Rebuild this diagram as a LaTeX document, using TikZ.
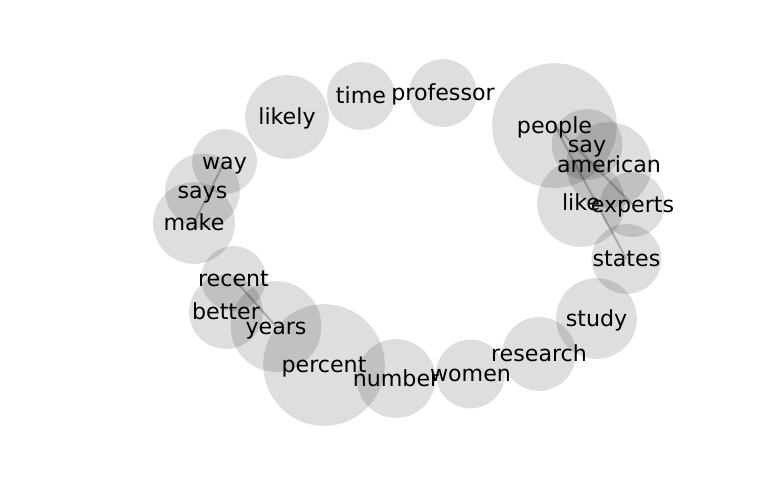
\documentclass[tikz,border=0pt]{standalone}
\usepackage{fontspec}
\setmainfont{DejaVu Sans}
\usetikzlibrary{backgrounds}

\tikzset{
  word/.style={circle, draw=none, fill=black, fill opacity=0.13, inner sep=0pt, minimum size={#1*1.44pt}},
  wordtext/.style={font=\fontsize{16pt}{19pt}\selectfont, text opacity=1, inner sep=0pt, text height=15pt, text depth=3.6pt},
  link/.style={draw=black, draw opacity=0.22, line width=1.5pt}
}

\begin{document}
\begin{tikzpicture}[x=0.01in, y=-0.01in]

        \useasboundingbox (0,0) rectangle (768,500);

        % Circles
        \foreach \w/\x/\y/\r in {professor/443/93/34, time/361/96/34, likely/287/117/42,
            way/224.5/161.5/32.5, says/202.5/191/37.5, make/194/223/41,
            recent/233.5/278.5/32.5, better/226/312/37, years/276/326.5/45.5,
            percent/324/365/61, number/396/378.5/39.5, women/470.5/374/34.5,
            research/539/354/37, study/596.5/318.5/40.5, states/626.5/259/35,
            experts/632.5/204.5/32.5, like/581/203/44, american/609/165/43,
            say/587/144.5/35.5, people/554.5/125.5/62.5}
          \node[word=\r] (\w) at (\x,\y) {};

        % Words
        \foreach \w in {professor, time, likely, way, says, make, recent, better, years,
            percent, number, women, research, study, states, experts, like, american, say, people}
          \node[wordtext] (\w-t) at (\w.center) {\w};

        % Links
        \begin{scope}[on background layer]
          \draw[link] (people.center) -- (experts.center);
          \draw[link] (people.center) -- (states.center);
          \draw[link] (way.center) -- (make.center);
          \draw[link] (recent.center) -- (years.center);
        \end{scope}

\end{tikzpicture}
\end{document}
